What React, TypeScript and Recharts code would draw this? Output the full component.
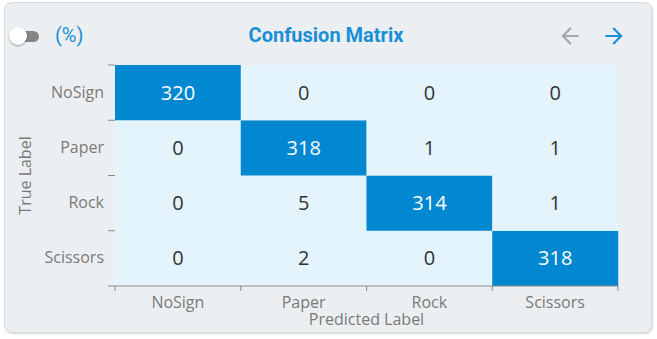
import React from "react"
import { Bar, BarChart, Cell, LabelList, XAxis, YAxis } from "recharts"

const predictedLabels = ["NoSign", "Paper", "Rock", "Scissors"]
const trueLabels = ["NoSign", "Paper", "Rock", "Scissors"]

const rowNoSign = [320, 0, 0, 0]
const rowPaper = [0, 318, 1, 1]
const rowRock = [0, 5, 314, 1]
const rowScissors = [0, 2, 0, 318]
const rows = [rowNoSign, rowPaper, rowRock, rowScissors]

const yTicks = [0, 0.5, 1, 1.5, 2, 2.5, 3, 3.5, 4]

const DARK = "#0288d1"
const LIGHT = "#e3f4fd"
const AXIS = "#8a8a8a"
const TEXT = "#7a7a7a"
const FONT = "'Open Sans', sans-serif"

const maxValue = Math.max(...rows.map((r) => Math.max(...r)))

// one entry per predicted column, each true-label row stacked as a unit block
const data = predictedLabels.map((p, i) => {
  const entry: Record<string, string | number> = { predicted: p }
  trueLabels.forEach((t, r) => {
    entry[t] = rows[r][i]
    entry[`${t}_cell`] = 1
  })
  return entry
})

const PLOT_W = 503
const BAND = PLOT_W / predictedLabels.length

function YTick(props: any) {
  const { x, y, payload } = props
  const v = payload.value
  if (Number.isInteger(v)) {
    return <line x1={x - 7} x2={x} y1={y} y2={y} stroke={AXIS} strokeWidth={1} />
  }
  const idx = trueLabels.length - 1 - Math.floor(v)
  return (
    <text x={x - 11} y={y} dy={5} textAnchor="end" fill={TEXT} fontSize={16} fontFamily={FONT}>
      {trueLabels[idx]}
    </text>
  )
}

function XTick(props: any) {
  const { x, y, payload, index } = props
  const last = index === predictedLabels.length - 1
  return (
    <g>
      <line x1={x - BAND / 2} x2={x - BAND / 2} y1={y} y2={y + 5} stroke={AXIS} />
      {last && <line x1={x + BAND / 2} x2={x + BAND / 2} y1={y} y2={y + 5} stroke={AXIS} />}
      <text x={x} y={y + 22} textAnchor="middle" fill={TEXT} fontSize={16} fontFamily={FONT}>
        {payload.value}
      </text>
    </g>
  )
}

function cellLabel(row: number) {
  return (p: any) => {
    const { x, y, width, height, index } = p
    const v = rows[row][index]
    const dark = v / maxValue > 0.5
    return (
      <text
        x={x + width / 2}
        y={y + height / 2}
        dy={7}
        textAnchor="middle"
        fill={dark ? "#ffffff" : "#333333"}
        fontSize={20}
        fontFamily={FONT}
      >
        {v}
      </text>
    )
  }
}

function ArrowIcon({ dir, color, left }: { dir: "back" | "forward"; color: string; left: number }) {
  const d =
    dir === "back"
      ? "M20 11H7.83l5.59-5.59L12 4l-8 8 8 8 1.41-1.41L7.83 13H20v-2z"
      : "M12 4l-1.41 1.41L16.17 11H4v2h12.17l-5.58 5.59L12 20l8-8z"
  return (
    <svg width={26} height={26} viewBox="0 0 24 24" style={{ position: "absolute", left, top: 23 }}>
      <path d={d} fill={color} />
    </svg>
  )
}

export default function App() {
  const stackOrder = [...trueLabels].reverse()
  return (
    <div style={{ position: "fixed", left: 0, top: 0, width: 657, height: 339, background: "#ffffff" }}>
      <div
        style={{
          position: "absolute",
          left: 4,
          top: 2,
          width: 646,
          height: 329,
          background: "#eceff1",
          border: "1px solid #d6dbde",
          borderRadius: 8,
          boxShadow: "1px 1px 2px rgba(0,0,0,0.15)",
        }}
      />
      {/* toggle */}
      <div
        style={{ position: "absolute", left: 13, top: 31, width: 26, height: 11, borderRadius: 6, background: "#858585" }}
      />
      <div
        style={{
          position: "absolute",
          left: 9,
          top: 27,
          width: 18,
          height: 18,
          borderRadius: 9,
          background: "#ffffff",
          boxShadow: "0 1px 2px rgba(0,0,0,0.35)",
        }}
      />
      <div
        style={{
          position: "absolute",
          left: 55,
          top: 23,
          fontFamily: "Roboto, sans-serif",
          fontSize: 20,
          color: "#1a8fd6",
        }}
      >
        (%)
      </div>
      <div
        style={{
          position: "absolute",
          left: 0,
          width: 652,
          top: 23,
          textAlign: "center",
          fontFamily: "Roboto, sans-serif",
          fontWeight: 700,
          fontSize: 20,
          color: "#1a8fd6",
        }}
      >
        Confusion Matrix
      </div>
      <ArrowIcon dir="back" color="#a8a8a8" left={557} />
      <ArrowIcon dir="forward" color="#1a8fd6" left={601} />
      <div style={{ position: "absolute", left: 0, top: 0 }}>
        <BarChart
          width={657}
          height={339}
          data={data}
          margin={{ top: 65, right: 39, bottom: 0, left: 0 }}
          barCategoryGap={0}
          barGap={0}
        >
          <XAxis
            dataKey="predicted"
            height={53}
            tickLine={false}
            tickSize={0}
            tickMargin={0}
            interval={0}
            axisLine={{ stroke: AXIS }}
            tick={<XTick />}
            label={{
              value: "Predicted Label",
              position: "insideBottom",
              offset: 14,
              fill: TEXT,
              fontSize: 16,
              fontFamily: FONT,
            }}
          />
          <YAxis
            type="number"
            domain={[0, 4]}
            ticks={yTicks}
            width={115}
            interval={0}
            tickLine={false}
            tickSize={0}
            tickMargin={0}
            axisLine={false}
            tick={<YTick />}
            label={{
              value: "True Label",
              angle: -90,
              position: "insideLeft",
              offset: 25,
              fill: TEXT,
              fontSize: 16,
              fontFamily: FONT,
              style: { textAnchor: "middle" },
            }}
          />
          {stackOrder.map((t) => {
            const r = trueLabels.indexOf(t)
            return (
              <Bar key={t} dataKey={`${t}_cell`} stackId="m" isAnimationActive={false}>
                {predictedLabels.map((p, i) => (
                  <Cell key={p} fill={rows[r][i] / maxValue > 0.5 ? DARK : LIGHT} />
                ))}
                <LabelList content={cellLabel(r)} />
              </Bar>
            )
          })}
        </BarChart>
      </div>
    </div>
  )
}
